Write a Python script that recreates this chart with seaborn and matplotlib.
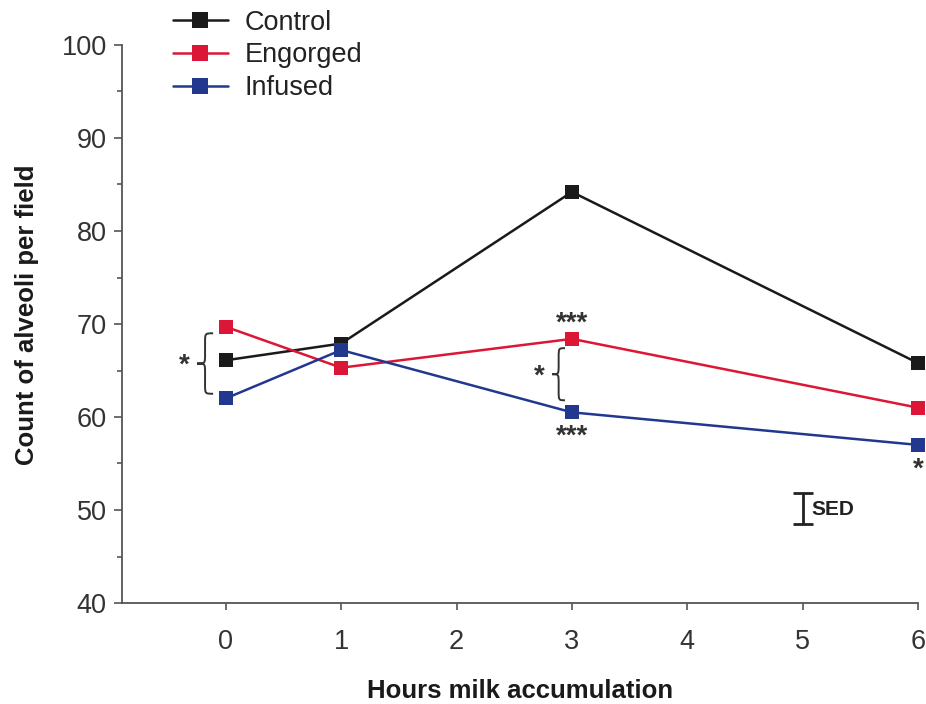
import numpy as np
import pandas as pd
import seaborn as sns
import matplotlib.pyplot as plt
from matplotlib.path import Path
from matplotlib.patches import PathPatch
from matplotlib.ticker import MultipleLocator

hours = [0, 1, 3, 6]
control = [66.1, 67.9, 84.2, 65.8]
engorged = [69.7, 65.3, 68.4, 61.0]
infused = [62.0, 67.2, 60.5, 57.0]
groups = ["Control", "Engorged", "Infused"]
colors = ["#1a1a1a", "#dc1637", "#22388f"]
sed_center = 50.15
sed_half = 1.7

df = pd.DataFrame({
    "Hours": hours * 3,
    "Count": control + engorged + infused,
    "Group": [g for g in groups for _ in hours],
})

sns.set_theme(style="white")
plt.rcParams["font.family"] = ["Liberation Sans", "DejaVu Sans"]

fig = plt.figure(figsize=(9.26, 7.04), dpi=100)
ax = fig.add_axes([122 / 926, 101 / 704, 796 / 926, 558 / 704])

sns.lineplot(data=df, x="Hours", y="Count", hue="Group", hue_order=groups,
             palette=colors, marker="s", markersize=10.5, markeredgewidth=0,
             linewidth=1.8, ax=ax, clip_on=False, legend=True)

ax.set_xlim(-0.9, 6)
ax.set_ylim(40, 100)
ax.set_xticks(range(0, 7))
ax.yaxis.set_major_locator(MultipleLocator(10))
ax.yaxis.set_minor_locator(MultipleLocator(5))
for s in ["top", "right"]:
    ax.spines[s].set_visible(False)
for s in ["left", "bottom"]:
    ax.spines[s].set_color("#555555")
    ax.spines[s].set_linewidth(1.3)
ax.tick_params(axis="y", which="major", direction="out", length=6, width=1.2,
               color="#555555", labelsize=19.5, labelcolor="#333333", pad=5, left=True)
ax.tick_params(axis="y", which="minor", direction="out", length=3.5, width=1.2,
               color="#555555", left=True)
ax.tick_params(axis="x", which="major", direction="out", length=5, width=1.2,
               color="#555555", labelsize=19.5, labelcolor="#333333", pad=14,
               bottom=True)

ax.set_xlabel("Hours milk accumulation", fontsize=18.5, fontweight="bold",
              color="#1a1a1a", va="center")
ax.set_ylabel("Count of alveoli per field", fontsize=18.5, fontweight="bold",
              color="#1a1a1a")
ax.xaxis.set_label_coords(0.5, -0.157)
ax.yaxis.set_label_coords(-0.104, 0.516)

handles, labels = ax.get_legend_handles_labels()
for h in handles:
    h.set_markersize(12)
leg = ax.legend(handles, labels, loc="upper left", bbox_to_anchor=(0.05, 1.083),
                frameon=False, fontsize=19.5, handlelength=2.05, handletextpad=0.6,
                labelspacing=0.25, borderaxespad=0)
for t in leg.get_texts():
    t.set_color("#222222")


def brace(ax, x_tip, y_top, y_bot, width, r):
    xr = x_tip + width
    xm = x_tip + width / 2
    ym = (y_top + y_bot) / 2
    verts = [
        (xr, y_top), (xm, y_top), (xm, y_top), (xm, y_top - r),
        (xm, ym + r),
        (xm, ym), (xm, ym), (x_tip, ym),
        (xm, ym), (xm, ym), (xm, ym - r),
        (xm, y_bot + r),
        (xm, y_bot), (xm, y_bot), (xr, y_bot),
    ]
    codes = [Path.MOVETO, Path.CURVE4, Path.CURVE4, Path.CURVE4,
             Path.LINETO,
             Path.CURVE4, Path.CURVE4, Path.CURVE4,
             Path.CURVE4, Path.CURVE4, Path.CURVE4,
             Path.LINETO,
             Path.CURVE4, Path.CURVE4, Path.CURVE4]
    ax.add_patch(PathPatch(Path(verts, codes), facecolor="none",
                           edgecolor="#333333", lw=1.4, clip_on=False))


star_kw = dict(fontsize=20, fontweight="bold", color="#333333")
brace(ax, -0.25, 69.0, 62.5, 0.14, 1.0)
ax.text(-0.31, 65.5, "*", ha="right", va="center", **star_kw)
brace(ax, 2.83, 67.4, 61.8, 0.11, 1.0)
ax.text(2.76, 64.3, "*", ha="right", va="center", **star_kw)
ax.text(3, 68.6, "***", ha="center", va="bottom", **star_kw)
ax.text(3, 59.3, "***", ha="center", va="top", **star_kw)
ax.text(6, 55.7, "*", ha="center", va="top", **star_kw)

# standard error of difference bar
ax.errorbar([5], [sed_center], yerr=[sed_half], color="#222222", capsize=7,
            elinewidth=2, capthick=2, clip_on=False)
ax.text(5.08, sed_center - 0.1, "SED", fontsize=15, fontweight="bold", ha="left",
        va="center", color="#222222")

fig.savefig("out.png", dpi=100)
